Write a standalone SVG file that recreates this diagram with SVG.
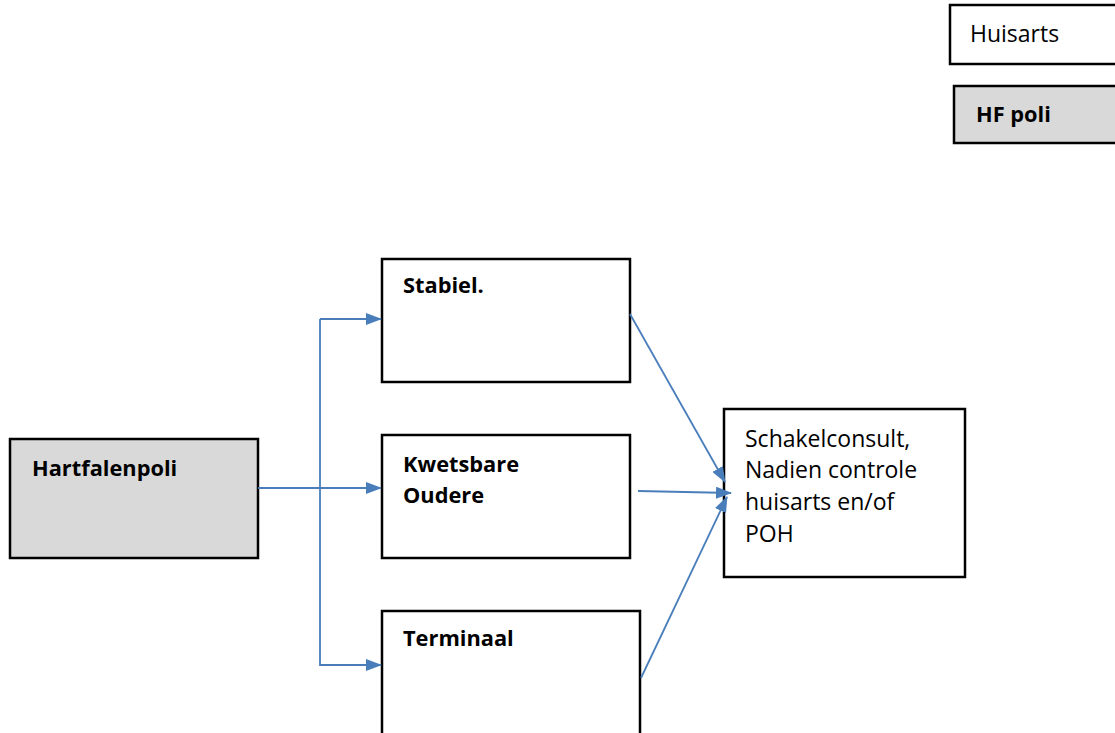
<svg xmlns="http://www.w3.org/2000/svg" width="1115" height="733" viewBox="0 0 1115 733">
<defs>
<marker id="ahs" markerWidth="16" markerHeight="12" refX="15" refY="6" orient="auto" markerUnits="userSpaceOnUse" viewBox="0 0 16 12">
<path d="M0,0 L16,6 L0,12 z" fill="#4a7ebb"/>
</marker>
</defs>
<style>
.box{fill:#fff;stroke:#000;stroke-width:2.5}
.grey{fill:#d9d9d9}
.t{font-family:"Open Sans","Liberation Sans",Arial,sans-serif;font-size:23px;fill:#000}
.b{font-weight:bold;font-size:21.8px}
.c{fill:none;stroke:#4a7ebb;stroke-width:1.8}
</style>
<rect width="1115" height="733" fill="#fff"/>
<g id="legend-huisarts">
<rect class="box" x="950" y="5" width="180" height="59"/>
<text class="t" x="970" y="42">Huisarts</text>
</g>
<g id="legend-hfpoli">
<rect class="box grey" x="954" y="86" width="180" height="57"/>
<text class="t b" x="976" y="122">HF poli</text>
</g>
<g id="hartfalenpoli">
<rect class="box grey" x="10" y="439" width="248" height="119"/>
<text class="t b" x="32" y="476">Hartfalenpoli</text>
</g>
<g id="stabiel">
<rect class="box" x="382" y="259" width="248" height="123"/>
<text class="t b" x="403" y="293">Stabiel.</text>
</g>
<g id="kwetsbare">
<rect class="box" x="382" y="435" width="248" height="123"/>
<text class="t b" x="403" y="472">Kwetsbare</text>
<text class="t b" x="403" y="503">Oudere</text>
</g>
<g id="terminaal">
<rect class="box" x="382" y="611" width="258" height="130"/>
<text class="t b" x="403" y="646">Terminaal</text>
</g>
<g id="schakelconsult">
<rect class="box" x="724" y="409" width="241" height="168"/>
<text class="t" x="745" y="447">Schakelconsult,</text>
<text class="t" x="745" y="478">Nadien controle</text>
<text class="t" x="745" y="510">huisarts en/of</text>
<text class="t" x="745" y="542">POH</text>
</g>
<g id="connectors">
<line class="c" x1="258" y1="488" x2="381" y2="488" marker-end="url(#ahs)"/>
<polyline class="c" points="320,319 320,665 381,665" marker-end="url(#ahs)"/>
<path class="c" d="M320,319 L381,319" marker-end="url(#ahs)"/>
<line class="c" x1="630" y1="314" x2="725" y2="482" marker-end="url(#ahs)"/>
<line class="c" x1="638" y1="491" x2="731" y2="493" marker-end="url(#ahs)"/>
<line class="c" x1="641" y1="678" x2="727" y2="497" marker-end="url(#ahs)"/>
</g>
</svg>
